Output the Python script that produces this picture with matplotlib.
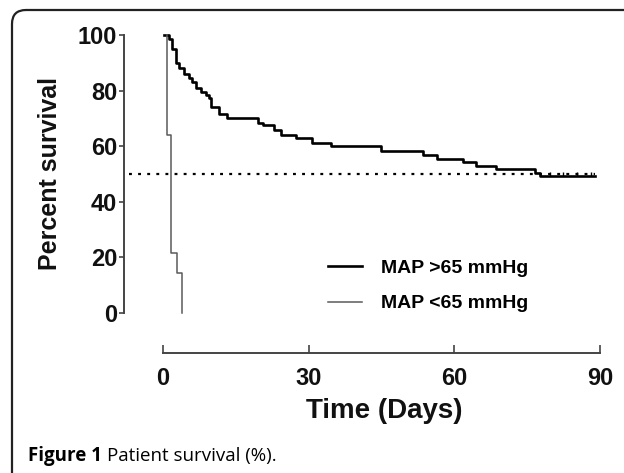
import matplotlib
matplotlib.use("Agg")
import matplotlib.pyplot as plt
from matplotlib.patches import FancyBboxPatch

# Kaplan-Meier style survival
days_high = [0.2, 1.2, 1.8, 2.7, 3.3, 4.3, 5.3, 6.0, 6.8, 7.8, 8.8, 9.4, 9.9,
             11.5, 13.1, 19.5, 20.5, 22.8, 24.4, 27.3, 30.6, 34.5, 44.8, 53.6,
             56.5, 61.8, 64.5, 68.6, 76.6, 77.6, 89.0]
surv_high = [100, 98.5, 95, 90, 88, 86, 84.5, 83, 81, 79.5, 78.5, 77.5, 74,
             71.5, 70, 68.5, 67.5, 66, 64, 63, 61, 60, 58.3, 56.8,
             55.4, 54.3, 53, 51.8, 50.4, 49.4, 49.4]
censor_days = [79.6, 82.3, 85.2, 88.2]

days_low = [0.8, 0.8, 1.6, 2.9, 3.9]
surv_low = [100, 64, 21.5, 14.4, 0]

labels = ["MAP >65 mmHg", "MAP <65 mmHg"]
median_level = 50

fig = plt.figure(figsize=(6.24, 4.73), dpi=100)
fig.patch.set_facecolor("white")

# rounded frame around the figure (clipped at right/bottom like the scan)
frame = FancyBboxPatch((0.12, -1.0), 8.0, 5.63,
                       boxstyle="round,pad=0,rounding_size=0.14",
                       transform=fig.dpi_scale_trans, fill=False,
                       edgecolor="#222222", linewidth=1.6)
fig.patches.append(frame)

ax = fig.add_axes([163 / 624, 160 / 473, 437 / 624, 278 / 473])
font = "Liberation Sans"

ax.plot(days_high, surv_high, drawstyle="steps-post", color="black",
        lw=1.9, label=labels[0], clip_on=False)
ax.plot(days_low, surv_low, drawstyle="steps-post", color="#5a5a5a",
        lw=1.1, label=labels[1], clip_on=False)
ax.plot(censor_days, [surv_high[-1]] * len(censor_days), linestyle="none",
        marker=2, markersize=3, color="black", mew=1.0, clip_on=False)
ax.plot([-7, 89], [median_level, median_level], color="black", lw=1.6,
        linestyle=(0, (1.3, 2.8)), clip_on=False)

ax.set_xlim(0, 90)
ax.set_ylim(0, 100)
ax.set_xticks([0, 30, 60, 90])
ax.set_yticks([0, 20, 40, 60, 80, 100])

for s in ["top", "right"]:
    ax.spines[s].set_visible(False)
ax.spines["left"].set_position(("outward", 28))
ax.spines["bottom"].set_position(("outward", 29))
ax.spines["left"].set_bounds(0, 100)
ax.spines["bottom"].set_bounds(0, 90)
for s in ["left", "bottom"]:
    ax.spines[s].set_color("#444444")
    ax.spines[s].set_linewidth(1.4)

ax.tick_params(axis="y", direction="out", length=3.6, width=1.2,
               color="#444444", pad=1.5)
ax.tick_params(axis="x", direction="in", length=5.8, width=1.2,
               color="#444444", pad=10)
for lab in ax.get_xticklabels() + ax.get_yticklabels():
    lab.set_fontfamily(font)
    lab.set_fontweight("bold")
    lab.set_fontsize(17)
    lab.set_color("#111111")

ax.set_ylabel("Percent survival", fontfamily=font, fontweight="bold",
              fontsize=18, color="#111111", va="center")
ax.yaxis.set_label_coords((50 - 163) / 437, (313 - 173) / 278)
ax.set_xlabel("Time (Days)", fontfamily=font, fontweight="bold",
              fontsize=20, color="#111111", va="center")
ax.xaxis.set_label_coords((384 - 163) / 437, (313 - 411) / 278)

ax.legend(loc="center left", bbox_to_anchor=((328 - 163) / 437, (313 - 286) / 278),
          frameon=False, borderaxespad=0, borderpad=0, handlelength=1.75,
          handletextpad=1.0, labelspacing=0.9,
          prop={"family": font, "weight": "bold", "size": 14})

# caption: bold "Figure 1" followed by regular text
cap = fig.text(28 / 624, 1 - 456 / 473, "Figure 1", fontfamily="Open Sans",
               fontweight="bold", fontsize=13.5, va="center", ha="left")
fig.add_artist(plt.Annotation("Patient survival (%).", xy=(1, 0.5),
                              xycoords=cap, xytext=(4, 0),
                              textcoords="offset points", va="center",
                              ha="left", fontfamily="Open Sans",
                              fontsize=13.5))

fig.savefig("out.png", dpi=100)
